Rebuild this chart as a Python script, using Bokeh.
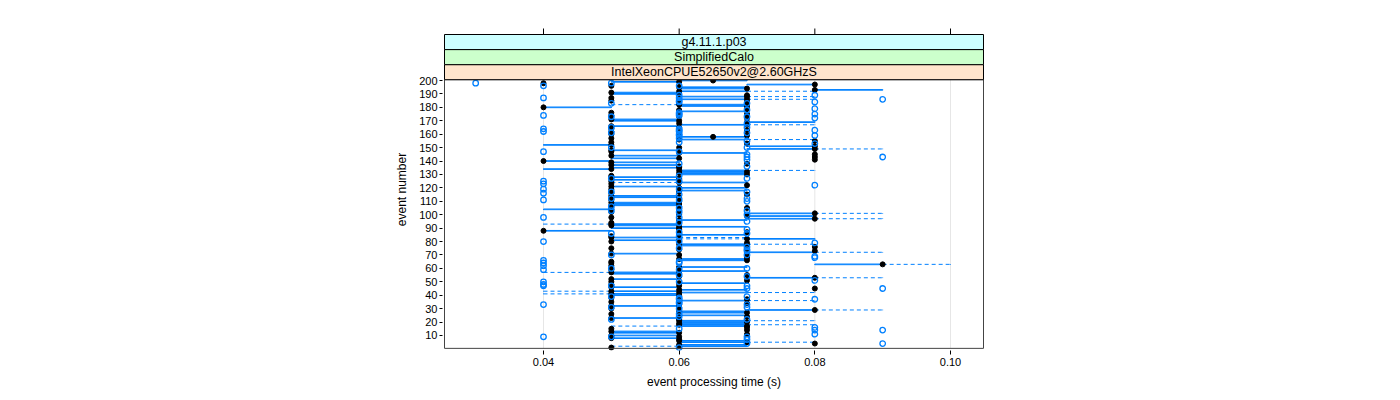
import numpy as np
from bokeh.plotting import figure
from bokeh.models import Range1d, FixedTicker
from bokeh.embed import file_html
from bokeh.resources import INLINE
from bokeh.core.properties import value

# ---------------- data (times in ms, events 1..200) ----------------
strip_labels = ["IntelXeonCPUE52650v2@2.60GHzS", "SimplifiedCalo", "g4.11.1.p03"]
strip_colors = ["#ffe5cc", "#ccffcc", "#ccffff"]
x_ticks = [0.04, 0.06, 0.08, 0.10]
x_tick_labels = ["0.04", "0.06", "0.08", "0.10"]
y_ticks = list(range(10, 201, 10))

q1_ms = [
    50, 60, 60, 80, 60, 60, 60, 50, 60, 50, 70, 50, 50, 70, 50, 70, 60, 60, 60, 60,
    60, 60, 50, 70, 60, 50, 60, 60, 70, 50, 60, 50, 60, 70, 50, 60, 70, 50, 60, 50,
    50, 60, 50, 60, 80, 50, 60, 50, 60, 50, 70, 50, 70, 60, 70, 50, 50, 60, 50, 60,
    60, 50, 80, 50, 50, 60, 60, 70, 70, 60, 50, 70, 80, 60, 50, 80, 60, 60, 70, 50,
    50, 70, 50, 50, 60, 60, 70, 40, 60, 50, 60, 50, 50, 50, 60, 60, 70, 50, 70, 60,
    70, 50, 60, 40, 70, 60, 50, 50, 50, 60, 50, 60, 50, 50, 70, 50, 60, 60, 50, 60,
    50, 70, 50, 60, 50, 50, 60, 50, 50, 60, 60, 60, 60, 40, 50, 60, 50, 70, 50, 40,
    80, 50, 80, 50, 80, 60, 50, 50, 70, 60, 70, 40, 70, 50, 80, 60, 50, 60, 70, 50,
    60, 50, 70, 50, 60, 50, 60, 60, 70, 50, 50, 70, 60, 50, 70, 50, 60, 60, 70, 40,
    60, 60, 60, 70, 50, 60, 50, 60, 70, 50, 50, 60, 80, 60, 60, 50, 70, 40, 50, 60,
]
med_ms = [
    50, 60, 60, 80, 70, 60, 60, 50, 60, 50, 70, 60, 50, 70, 50, 70, 70, 60, 60, 70,
    60, 60, 50, 70, 60, 50, 70, 60, 80, 50, 60, 50, 60, 70, 50, 60, 70, 50, 60, 60,
    50, 60, 50, 60, 80, 50, 60, 50, 60, 50, 70, 50, 80, 60, 70, 60, 50, 60, 50, 60,
    60, 50, 90, 50, 50, 70, 60, 70, 70, 60, 50, 70, 80, 60, 50, 80, 70, 60, 70, 50,
    60, 70, 50, 50, 60, 60, 70, 40, 60, 60, 60, 50, 50, 50, 60, 60, 80, 50, 70, 60,
    80, 50, 60, 50, 70, 60, 50, 60, 50, 60, 50, 60, 60, 50, 70, 50, 60, 60, 50, 60,
    50, 70, 50, 60, 50, 60, 60, 50, 50, 70, 60, 70, 60, 50, 60, 60, 50, 70, 50, 40,
    80, 60, 80, 50, 80, 60, 50, 50, 80, 60, 80, 50, 70, 50, 80, 60, 50, 65, 70, 50,
    60, 50, 70, 50, 60, 50, 70, 60, 70, 60, 50, 70, 60, 50, 70, 50, 60, 60, 70, 40,
    70, 60, 60, 70, 50, 70, 50, 70, 70, 60, 50, 60, 80, 70, 60, 50, 80, 40, 60, 65,
]
q3_ms = [
    50, 70, 70, 80, 70, 70, 60, 60, 60, 60, 70, 60, 60, 70, 50, 70, 70, 70, 70, 70,
    70, 60, 60, 70, 70, 50, 70, 70, 80, 50, 60, 60, 60, 70, 50, 70, 70, 50, 60, 60,
    60, 70, 60, 70, 80, 60, 60, 50, 70, 50, 70, 60, 80, 60, 70, 60, 60, 70, 50, 60,
    70, 50, 90, 50, 50, 70, 70, 70, 70, 60, 60, 80, 80, 60, 50, 80, 70, 70, 70, 50,
    60, 80, 60, 50, 70, 60, 70, 50, 60, 60, 70, 60, 60, 50, 60, 70, 80, 50, 80, 60,
    80, 50, 60, 50, 70, 60, 60, 60, 60, 60, 50, 60, 60, 60, 70, 50, 60, 70, 50, 70,
    60, 70, 50, 70, 50, 60, 60, 60, 50, 70, 70, 70, 70, 50, 60, 60, 60, 70, 60, 50,
    80, 60, 80, 60, 80, 70, 50, 60, 80, 60, 80, 50, 70, 50, 80, 70, 50, 70, 70, 50,
    60, 50, 70, 50, 60, 60, 70, 60, 80, 60, 60, 70, 60, 50, 70, 50, 70, 60, 70, 50,
    70, 70, 60, 70, 50, 70, 50, 70, 70, 60, 60, 70, 90, 70, 70, 50, 80, 40, 60, 70,
]
wlo_ms = [
    50, 50, 60, 80, 60, 60, 60, 50, 60, 50, 70, 50, 50, 70, 50, 70, 50, 60, 60, 60,
    60, 60, 50, 70, 60, 50, 60, 60, 70, 50, 60, 50, 60, 70, 50, 60, 70, 50, 60, 50,
    40, 60, 40, 60, 80, 50, 60, 50, 60, 50, 70, 50, 70, 60, 70, 50, 40, 60, 50, 60,
    60, 50, 80, 50, 50, 60, 60, 70, 70, 60, 50, 70, 80, 60, 50, 80, 60, 60, 70, 50,
    50, 60, 50, 50, 60, 60, 70, 40, 60, 50, 60, 50, 40, 50, 60, 60, 70, 50, 70, 60,
    70, 50, 60, 40, 70, 60, 50, 50, 50, 60, 50, 60, 50, 50, 70, 50, 60, 60, 50, 60,
    50, 70, 50, 50, 50, 50, 60, 50, 50, 60, 60, 60, 60, 40, 50, 60, 50, 70, 50, 40,
    80, 50, 80, 50, 80, 60, 50, 50, 70, 60, 70, 40, 70, 50, 80, 60, 50, 60, 70, 50,
    60, 50, 70, 50, 60, 50, 60, 60, 70, 50, 50, 70, 60, 50, 70, 50, 60, 60, 70, 40,
    60, 50, 60, 70, 50, 60, 50, 60, 70, 50, 50, 60, 80, 60, 60, 50, 70, 40, 50, 60,
]
whi_ms = [
    50, 70, 70, 80, 80, 70, 60, 60, 60, 60, 70, 60, 60, 70, 50, 70, 70, 80, 70, 70,
    80, 60, 60, 70, 70, 50, 70, 70, 90, 50, 60, 60, 60, 70, 50, 80, 70, 50, 60, 60,
    60, 80, 60, 70, 80, 60, 60, 50, 70, 50, 70, 60, 90, 60, 70, 60, 60, 70, 50, 60,
    70, 50, 100, 50, 50, 70, 70, 70, 70, 60, 60, 90, 80, 60, 50, 80, 70, 80, 70, 50,
    60, 80, 70, 50, 70, 60, 70, 50, 60, 60, 70, 60, 60, 50, 60, 70, 90, 50, 80, 60,
    90, 50, 60, 50, 70, 60, 60, 60, 60, 60, 50, 60, 60, 60, 70, 50, 60, 70, 50, 70,
    60, 70, 50, 70, 50, 60, 60, 60, 50, 70, 70, 70, 80, 50, 60, 60, 60, 70, 60, 50,
    80, 60, 80, 60, 80, 70, 50, 60, 90, 60, 80, 50, 70, 50, 80, 80, 50, 70, 70, 50,
    60, 50, 70, 50, 60, 60, 80, 60, 80, 60, 60, 70, 60, 50, 70, 50, 70, 60, 70, 50,
    70, 70, 60, 70, 50, 80, 50, 80, 70, 60, 60, 80, 90, 70, 70, 50, 80, 40, 60, 70,
]
out_event = [
    1, 4, 4, 7, 9, 9, 9, 11, 14, 14, 15, 16, 22, 22, 24, 26, 30, 31, 31, 33, 33, 34, 35,
    37, 37, 38, 39, 39, 45, 45, 47, 47, 47, 48, 50, 50, 51, 54, 55, 59, 59, 60, 60, 62,
    64, 64, 65, 66, 68, 69, 70, 70, 73, 74, 75, 76, 79, 80, 80, 84, 86, 86, 87, 89, 94,
    95, 98, 98, 100, 102, 103, 103, 105, 106, 110, 111, 111, 112, 112, 115, 116, 117,
    117, 119, 119, 122, 123, 125, 125, 127, 127, 129, 136, 138, 141, 143, 143, 145, 147,
    147, 150, 150, 153, 154, 155, 157, 159, 159, 160, 161, 161, 162, 162, 163, 163, 164,
    164, 165, 165, 168, 172, 173, 173, 174, 174, 175, 175, 176, 178, 179, 183, 183, 184,
    184, 185, 186, 187, 187, 189, 189, 196, 196, 198, 198,
]
out_time_ms = [
    60, 70, 90, 70, 40, 50, 70, 80, 80, 90, 60, 80, 50, 70, 60, 60, 60, 50, 70, 40, 70, 60, 60,
    60, 80, 60, 50, 70, 70, 90, 40, 50, 70, 40, 40, 60, 80, 70, 60, 40, 60, 50, 70, 40,
    40, 60, 60, 40, 80, 80, 50, 70, 70, 70, 60, 70, 80, 40, 60, 60, 50, 70, 60, 70, 60,
    70, 40, 60, 70, 60, 50, 70, 60, 50, 70, 40, 60, 50, 70, 60, 40, 50,
    70, 40, 60, 80, 40, 40, 60, 50, 70, 60, 70, 60, 70, 70, 90, 70, 40,
    60, 50, 70, 80, 60, 70, 60, 60, 80, 60, 50, 70, 40, 60, 60, 80, 40,
    60, 50, 70, 70, 80, 50, 70, 40, 60, 60, 80, 60, 70, 80, 50, 70, 60,
    80, 60, 90, 40, 60, 60, 80, 40, 60, 30, 50,
]

# ---------------- derived arrays ----------------
ev = np.arange(1, 201, dtype=float)
q1 = np.array(q1_ms) / 1000.0
med = np.array(med_ms) / 1000.0
q3 = np.array(q3_ms) / 1000.0
wlo = np.array(wlo_ms) / 1000.0
whi = np.array(whi_ms) / 1000.0
oe = np.array(out_event, dtype=float)
ot = np.array(out_time_ms) / 1000.0

BOX = "#0080ff"
FONT = "Liberation Sans"
hw = 0.25  # half box height (lattice box.ratio = 1)

# panel / strip extents in data units
px_x = 407 / 0.06          # pixels per second
px_y = 1.342               # pixels per event
panel_x0 = 0.04 - 99 / px_x
panel_x1 = 0.04 + 440 / px_x
panel_y0, panel_y1 = 0.4, 200.6
strip_top = 200 + (80 - 34) / px_y
strip_h = (strip_top - panel_y1) / 3
x_lo = 0.04 - 101 / px_x
x_hi = 0.04 + 442 / px_x
y_lo = 200 - (350 - 80) / px_y
y_hi = 200 + (80 - 28) / px_y

W, H = 1392, 394
p = figure(width=W, height=H, output_backend="svg", toolbar_location=None,
           x_range=Range1d(x_lo, x_hi), y_range=Range1d(y_lo, y_hi),
           min_border_left=442, min_border_right=W - 985, min_border_top=28,
           min_border_bottom=H - 350,
           x_axis_label="event processing time (s)", y_axis_label="event number")
p.xgrid.grid_line_color = None
p.ygrid.grid_line_color = None
p.outline_line_color = None
p.background_fill_color = "white"
p.border_fill_color = "white"

# vertical reference lines
p.segment(x0=x_ticks, y0=[panel_y0] * 4, x1=x_ticks, y1=[panel_y1] * 4,
          line_color="#e6e6e6", line_width=1)

# boxes (outline rectangle as 4 segments)
p.segment(x0=q1, y0=ev + hw, x1=q3, y1=ev + hw, line_color=BOX, line_width=1)
p.segment(x0=q1, y0=ev - hw, x1=q3, y1=ev - hw, line_color=BOX, line_width=1)
p.segment(x0=q1, y0=ev - hw, x1=q1, y1=ev + hw, line_color=BOX, line_width=1)
p.segment(x0=q3, y0=ev - hw, x1=q3, y1=ev + hw, line_color=BOX, line_width=1)

# whiskers (dashed)
m_lo = wlo < q1
m_hi = whi > q3
p.segment(x0=wlo[m_lo], y0=ev[m_lo], x1=q1[m_lo], y1=ev[m_lo],
          line_color=BOX, line_width=1, line_dash="4 3")
p.segment(x0=q3[m_hi], y0=ev[m_hi], x1=whi[m_hi], y1=ev[m_hi],
          line_color=BOX, line_width=1, line_dash="4 3")
p.segment(x0=np.concatenate([wlo, whi]), y0=np.concatenate([ev - hw, ev - hw]),
          x1=np.concatenate([wlo, whi]), y1=np.concatenate([ev + hw, ev + hw]),
          line_color=BOX, line_width=1)

# medians
p.scatter(x=med, y=ev, marker="circle", size=5, fill_color="black", line_color="black")
# outliers
p.scatter(x=ot, y=oe, marker="circle", size=5.5, fill_color=None, line_color=BOX, line_width=1.3)

# panel border
p.quad(left=[panel_x0], right=[panel_x1], bottom=[panel_y0], top=[panel_y1],
       fill_color=None, line_color="#444444", line_width=1)

# strips
for i, (lab, col) in enumerate(zip(strip_labels, strip_colors)):
    b = panel_y1 + i * strip_h
    p.quad(left=[panel_x0], right=[panel_x1], bottom=[b], top=[b + strip_h],
           fill_color=col, line_color="black", line_width=1)
    p.text(x=[(panel_x0 + panel_x1) / 2], y=[b + strip_h / 2], text=[lab],
           text_align="center", text_baseline="middle",
           text_font=value(FONT), text_font_size="12.5px", text_color="black")

# top tick marks (above the strips)
p.segment(x0=x_ticks, y0=[strip_top] * 4, x1=x_ticks, y1=[y_hi + 1] * 4,
          line_color="black", line_width=1)

# axes
xa = p.xaxis[0]
xa.ticker = FixedTicker(ticks=x_ticks)
xa.major_label_overrides = {t: s for t, s in zip(x_ticks, x_tick_labels)}
ya = p.yaxis[0]
ya.ticker = FixedTicker(ticks=y_ticks)
for ax in (xa, ya):
    ax.axis_line_color = None
    ax.minor_tick_line_color = None
    ax.major_tick_in = 0
    ax.major_tick_line_color = "black"
    ax.major_label_text_font = FONT
    ax.major_label_text_font_size = "11px"
    ax.major_label_text_color = "black"
    ax.axis_label_text_font = FONT
    ax.axis_label_text_font_size = "12px"
    ax.axis_label_text_font_style = "normal"
    ax.axis_label_text_color = "black"
xa.major_tick_out = 4
xa.major_label_standoff = 3
xa.axis_label_standoff = 6
ya.major_tick_out = 3
ya.major_label_standoff = 2
ya.axis_label_standoff = 7

open("out.html", "w").write(file_html(p, INLINE))
